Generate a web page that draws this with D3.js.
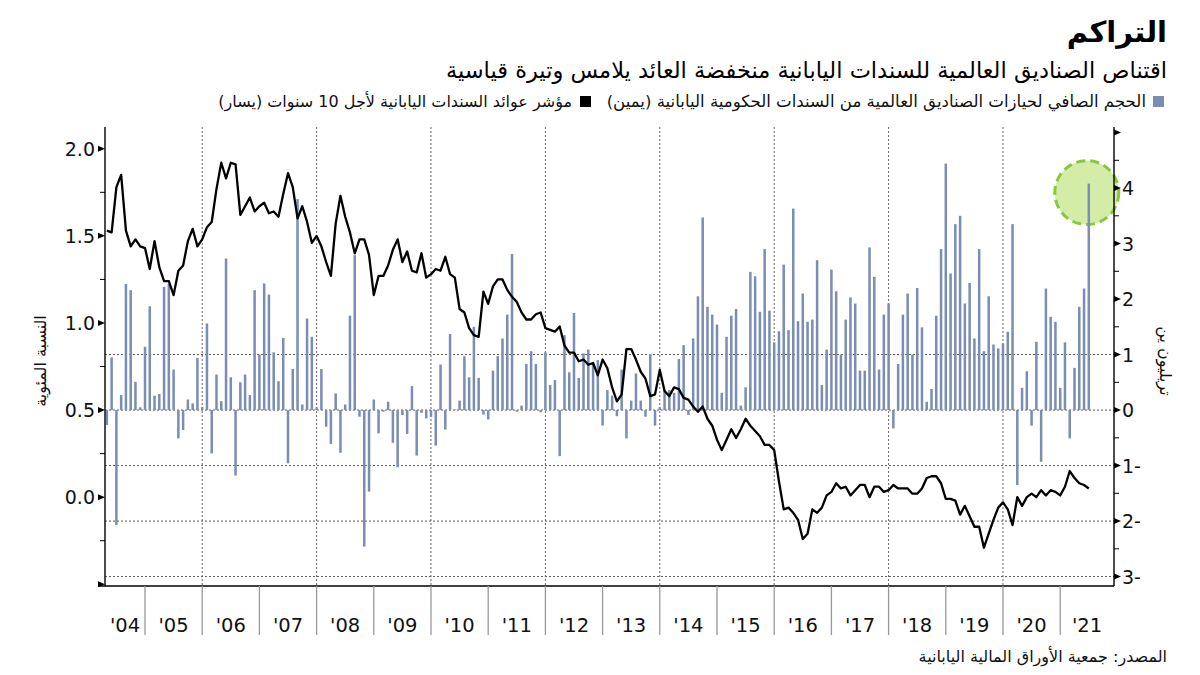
<!DOCTYPE html>
<html><head><meta charset="utf-8">
<script src="https://cdn.jsdelivr.net/npm/d3@7"></script>
<style>body{margin:0;background:#fff}svg{display:block}text{font-family:"DejaVu Sans",sans-serif}</style>
</head><body><svg id="c" width="1200" height="675"></svg>
<script>
// ---- data ----
const startYear = 2004, startMonth = 4; // first observation: May 2004 (0-indexed month)
// Net holdings change of JGBs by global funds, trillion yen (right axis)
const flows = [-0.27,0.95,-2.07,0.27,2.27,2.16,0.51,0.05,1.14,1.87,0.26,0.29,2.22,2.27,0.73,-0.51,-0.36,0.19,0.12,0.94,
0.05,1.56,-0.78,0.64,0.16,2.73,0.59,-1.18,0.50,0.64,0.27,2.16,1.00,2.28,2.08,1.04,0.52,1.30,-0.96,0.74,
3.80,0.10,1.65,1.32,0.05,0.74,-0.30,-0.61,0.30,-0.77,0.10,1.70,2.79,-0.12,-2.46,-1.47,0.19,-0.42,-0.03,0.15,
-0.59,-1.03,-0.09,-0.43,0.43,-0.82,-0.05,-0.15,-0.12,-0.64,0.82,-0.35,1.37,0.01,0.17,0.97,0.59,1.50,0.58,-0.08,
-0.17,0.71,0.97,1.29,1.72,2.81,-0.03,0.08,0.83,1.06,0.83,-0.04,1.04,0.45,0.54,-0.83,1.35,0.68,1.75,0.58,
1.02,1.09,0.84,0.90,-0.28,0.36,0.26,-0.11,0.73,-0.51,0.17,0.66,0.17,-0.12,1.01,-0.28,0.05,0.36,0.36,0.31,
0.92,1.17,-0.09,1.29,2.05,3.47,1.86,1.72,1.54,0.31,1.32,1.70,1.82,0.08,0.41,2.49,2.41,1.77,2.90,1.79,
1.22,1.42,2.62,1.44,3.63,1.60,2.10,1.59,1.63,2.70,0.45,1.09,2.53,2.14,1.00,1.63,2.03,1.92,0.71,0.71,
2.93,2.40,0.73,1.72,1.92,-0.33,0.83,1.72,2.10,1.00,2.20,1.49,0.15,0.38,1.70,2.90,4.44,2.46,3.35,3.50,
1.92,2.29,1.29,2.90,1.06,2.05,1.18,1.11,1.20,1.41,3.35,-1.35,0.40,0.70,-0.28,1.23,-0.93,2.19,1.68,1.59,
0.40,1.22,-0.51,0.76,1.86,2.19,4.08];
// Japan 10-year government bond yield, percent (left axis)
const yields = [1.53,1.52,1.78,1.85,1.53,1.44,1.48,1.44,1.43,1.31,1.47,1.32,1.24,1.24,1.16,1.30,1.33,1.47,1.54,1.44,
1.48,1.55,1.58,1.77,1.92,1.83,1.92,1.91,1.62,1.67,1.72,1.64,1.67,1.69,1.63,1.64,1.61,1.74,1.86,1.78,
1.60,1.67,1.58,1.46,1.50,1.44,1.35,1.27,1.57,1.73,1.61,1.52,1.40,1.48,1.48,1.39,1.16,1.27,1.27,1.33,
1.42,1.48,1.35,1.41,1.30,1.29,1.40,1.26,1.28,1.31,1.30,1.38,1.28,1.26,1.08,1.06,0.97,0.93,0.92,1.18,
1.11,1.21,1.25,1.25,1.19,1.15,1.12,1.06,1.02,1.02,1.05,1.06,0.97,0.96,0.95,0.98,0.87,0.83,0.83,0.78,
0.79,0.76,0.77,0.70,0.79,0.74,0.63,0.55,0.59,0.85,0.85,0.79,0.72,0.68,0.58,0.59,0.73,0.61,0.58,0.63,
0.62,0.57,0.56,0.52,0.49,0.52,0.45,0.41,0.33,0.27,0.33,0.39,0.34,0.39,0.45,0.41,0.38,0.35,0.30,0.30,
0.27,0.09,-0.07,-0.06,-0.09,-0.13,-0.24,-0.21,-0.07,-0.09,-0.06,0.01,0.03,0.08,0.05,0.06,0.01,0.04,0.07,0.07,
0.00,0.06,0.06,0.03,0.04,0.07,0.05,0.05,0.05,0.02,0.02,0.05,0.11,0.12,0.12,0.08,-0.01,-0.01,-0.02,-0.10,
-0.05,-0.11,-0.17,-0.17,-0.29,-0.21,-0.13,-0.06,-0.03,-0.07,-0.16,0.00,-0.05,0.00,0.02,0.00,0.04,0.01,0.04,0.03,
0.01,0.06,0.15,0.11,0.08,0.07,0.05];
const yearLabels = ["'04","'05","'06","'07","'08","'09","'10","'11","'12","'13","'14","'15","'16","'17","'18","'19","'20","'21"];
const leftTicks = [0.0,0.5,1.0,1.5,2.0];
const rightTicks = [-3,-2,-1,0,1,2,3,4];
const gridRight = [1,0,-1,-2,-3];
const gridYears = [2006,2008,2010,2012,2014,2016,2018,2020];

const title = "التراكم";
const subtitle = "اقتناص الصناديق العالمية للسندات اليابانية منخفضة العائد يلامس وتيرة قياسية";
const legendFlows = "الحجم الصافي لحيازات الصناديق العالمية من السندات الحكومية اليابانية (يمين)";
const legendYield = "مؤشر عوائد السندات اليابانية لأجل 10 سنوات (يسار)";
const leftTitle = "النسبة المئوية";
const rightTitle = "تريليون ين";
const source = "المصدر: جمعية الأوراق المالية اليابانية";

// ---- layout ----
const X0 = 105, X1 = 1114, YT = 127, YB = 586;
const barColor = "#7a8db2";
const svg = d3.select("#c");
const dates = flows.map((_, i) => startYear + (startMonth + i) / 12);

const x = d3.scaleLinear().domain([2004.3007, 2021.9406]).range([X0, X1]);
const yL = d3.scaleLinear().domain([-0.51, 2.125]).range([YB, YT]);
const yR = d3.scaleLinear().domain([-3.17, 5.1]).range([YB, YT]);

// gridlines
svg.append("g").selectAll("line").data(gridRight).join("line")
  .attr("x1", X0).attr("x2", X1).attr("y1", d => yR(d)).attr("y2", d => yR(d))
  .attr("stroke", "#444").attr("stroke-width", 0.9).attr("stroke-dasharray", "2,2");
svg.append("g").selectAll("line").data(gridYears).join("line")
  .attr("x1", d => x(d)).attr("x2", d => x(d)).attr("y1", YT).attr("y2", YB)
  .attr("stroke", "#555").attr("stroke-width", 0.9).attr("stroke-dasharray", "2,2");

// highlight circle around the record value
const lastI = flows.length - 1;
svg.append("circle").attr("cx", x(dates[lastI]) - 2).attr("cy", yR(flows[lastI]) + 9).attr("r", 32)
  .attr("fill", "#d3eda8").attr("stroke", "#8cc63f").attr("stroke-width", 3).attr("stroke-dasharray", "9,5");

// bars
svg.append("g").selectAll("rect").data(flows).join("rect")
  .attr("x", (d, i) => x(dates[i]) - 1.25).attr("width", 2.5)
  .attr("y", d => Math.min(yR(d), yR(0))).attr("height", d => Math.abs(yR(d) - yR(0)))
  .attr("fill", barColor);

// line
svg.append("path").datum(yields)
  .attr("d", d3.line().x((d, i) => x(dates[i])).y(d => yL(d)))
  .attr("fill", "none").attr("stroke", "#000").attr("stroke-width", 2.3).attr("stroke-linejoin", "round");

// axes lines
svg.append("line").attr("x1", X0).attr("x2", X0).attr("y1", YT).attr("y2", YB).attr("stroke", "#000").attr("stroke-width", 1.4);
svg.append("line").attr("x1", X1).attr("x2", X1).attr("y1", YT).attr("y2", YB).attr("stroke", "#000").attr("stroke-width", 1.4);
svg.append("line").attr("x1", X0 - 6).attr("x2", X1).attr("y1", YB).attr("y2", YB).attr("stroke", "#000").attr("stroke-width", 1.4);

// left ticks
const lMajor = d3.range(-0.5, 2.01, 0.5), lMinor = d3.range(-0.25, 2.0, 0.5);
svg.append("g").selectAll("path").data(lMajor).join("path")
  .attr("d", d => `M${X0},${yL(d)}L${X0 - 7},${yL(d) - 3}L${X0 - 7},${yL(d) + 3}Z`).attr("fill", "#000");
svg.append("g").selectAll("line").data(lMinor).join("line")
  .attr("x1", X0).attr("x2", X0 - 5).attr("y1", d => yL(d)).attr("y2", d => yL(d)).attr("stroke", "#000").attr("stroke-width", 1);
svg.append("g").selectAll("text").data(leftTicks).join("text")
  .attr("x", X0 - 10).attr("y", d => yL(d) + 7).attr("text-anchor", "end").attr("font-size", 19).attr("fill", "#111")
  .text(d => d.toFixed(1));

// right ticks
const rMajor = d3.range(-3, 5.01, 1), rMinor = d3.range(-2.5, 5, 1);
svg.append("g").selectAll("path").data(rMajor).join("path")
  .attr("d", d => `M${X1},${yR(d) - 3}L${X1 + 7},${yR(d)}L${X1},${yR(d) + 3}Z`).attr("fill", "#000");
svg.append("g").selectAll("line").data(rMinor).join("line")
  .attr("x1", X1).attr("x2", X1 + 5).attr("y1", d => yR(d)).attr("y2", d => yR(d)).attr("stroke", "#000").attr("stroke-width", 1);
svg.append("g").selectAll("text").data(rightTicks).join("text")
  .attr("x", X1 + 8).attr("y", d => yR(d) + 7).attr("text-anchor", "start").attr("font-size", 19).attr("fill", "#111")
  .text(d => d < 0 ? Math.abs(d) + "-" : String(d));

// x-axis year separators and labels
const bounds = d3.range(2005, 2022);
svg.append("g").selectAll("line").data(bounds).join("line")
  .attr("x1", d => x(d)).attr("x2", d => x(d)).attr("y1", YB).attr("y2", 635)
  .attr("stroke", "#999").attr("stroke-width", 1.3);
svg.append("g").selectAll("text").data(yearLabels).join("text")
  .attr("x", (d, i) => (Math.max(x(2004 + i), X0) + Math.min(x(2005 + i), X1)) / 2)
  .attr("y", 632).attr("text-anchor", "middle").attr("font-size", 19.5).attr("fill", "#111").text(d => d);

// axis titles
svg.append("text").attr("transform", "translate(46,361) rotate(-90)").attr("text-anchor", "middle")
  .attr("font-size", 16).attr("fill", "#111").text(leftTitle);
svg.append("text").attr("transform", "translate(1160,361) rotate(90)").attr("text-anchor", "middle")
  .attr("font-size", 16).attr("fill", "#111").text(rightTitle);

// titles
svg.append("text").attr("x", 1167).attr("y", 42).attr("direction", "rtl").attr("text-anchor", "start")
  .attr("font-size", 29).attr("font-weight", "bold").attr("fill", "#000").text(title);
svg.append("text").attr("x", 1167).attr("y", 78).attr("direction", "rtl").attr("text-anchor", "start")
  .attr("font-size", 22.5).attr("fill", "#000").text(subtitle);

// legend
svg.append("rect").attr("x", 1153).attr("y", 96).attr("width", 11).attr("height", 11).attr("fill", barColor);
svg.append("text").attr("x", 1146).attr("y", 107).attr("direction", "rtl").attr("text-anchor", "start")
  .attr("font-size", 16.6).attr("fill", "#111").text(legendFlows);
svg.append("rect").attr("x", 580).attr("y", 96).attr("width", 11).attr("height", 11).attr("fill", "#000");
svg.append("text").attr("x", 572).attr("y", 107).attr("direction", "rtl").attr("text-anchor", "start")
  .attr("font-size", 16).attr("fill", "#111").text(legendYield);

// source
svg.append("text").attr("x", 1167).attr("y", 662).attr("direction", "rtl").attr("text-anchor", "start")
  .attr("font-size", 16).attr("fill", "#111").text(source);
</script></body></html>
